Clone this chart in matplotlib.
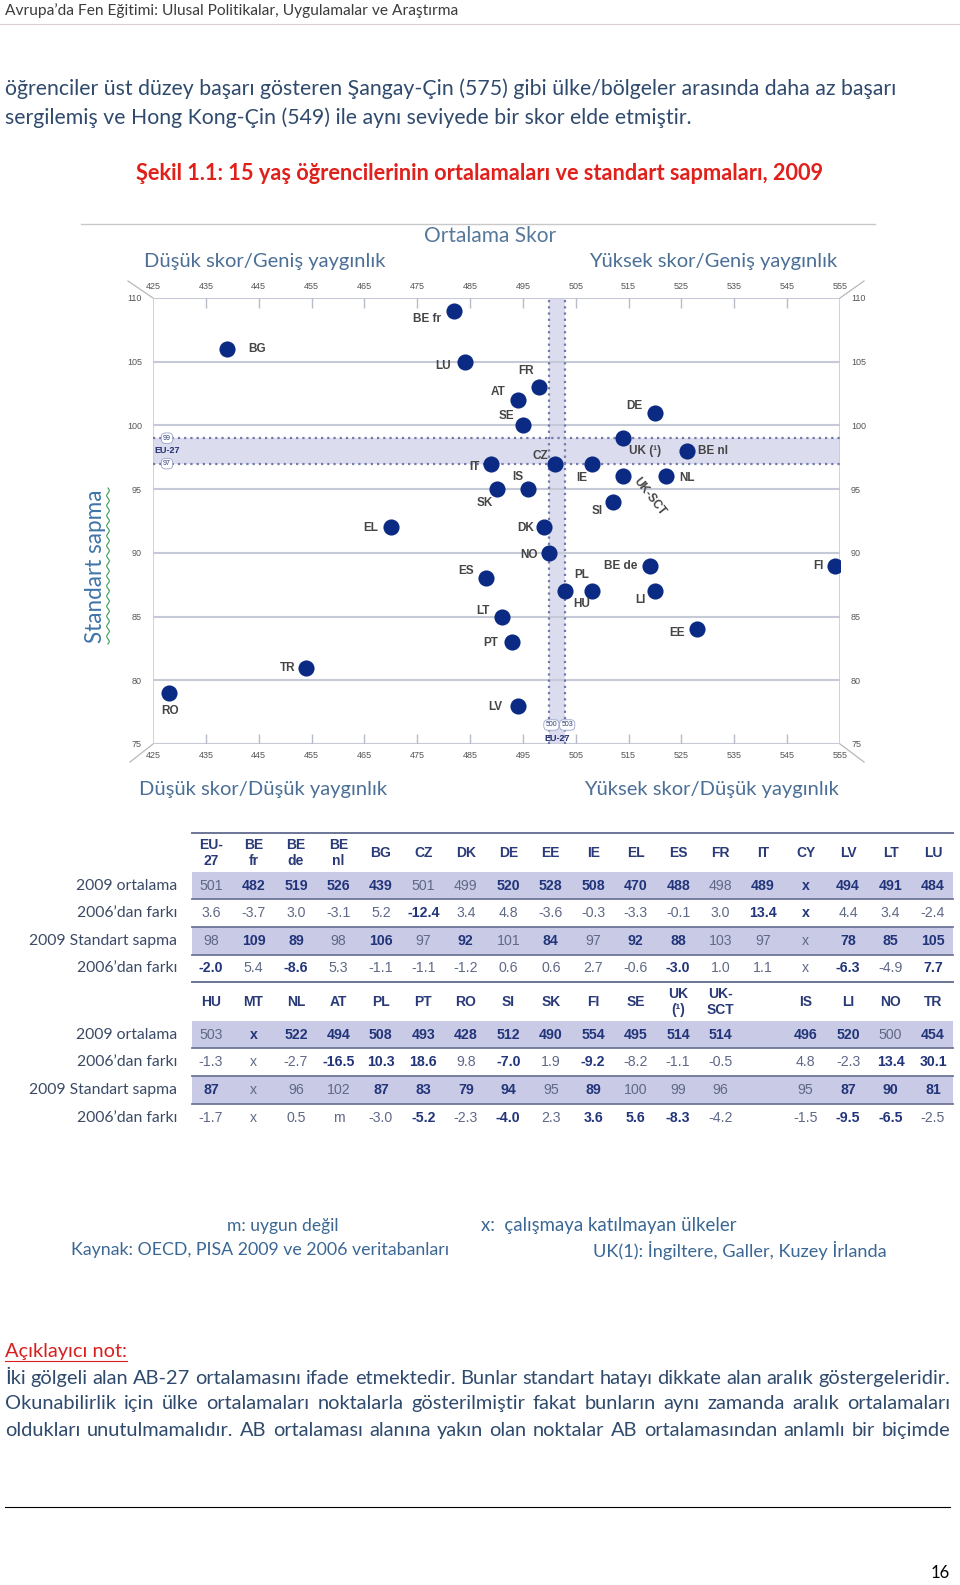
import matplotlib
matplotlib.use('Agg')
import matplotlib.pyplot as plt
import numpy as np

# ---------------- text content ----------------
header_text = "Avrupa’da Fen Eğitimi: Ulusal Politikalar, Uygulamalar ve Araştırma"
intro_lines = ["öğrenciler üst düzey başarı gösteren Şangay-Çin (575) gibi ülke/bölgeler arasında daha az başarı",
               "sergilemiş ve Hong Kong-Çin (549) ile aynı seviyede bir skor elde etmiştir."]
caption = "Şekil 1.1: 15 yaş öğrencilerinin ortalamaları ve standart sapmaları, 2009"
chart_title = "Ortalama Skor"
quad_tl = "Düşük skor/Geniş yaygınlık"
quad_tr = "Yüksek skor/Geniş yaygınlık"
quad_bl = "Düşük skor/Düşük yaygınlık"
quad_br = "Yüksek skor/Düşük yaygınlık"
y_title = "Standart sapma"
row_labels = ["2009 ortalama", "2006’dan farkı", "2009 Standart sapma", "2006’dan farkı"]
foot_m = "m: uygun değil"
foot_src = "Kaynak: OECD, PISA 2009 ve 2006 veritabanları"
foot_x = "x:  çalışmaya katılmayan ülkeler"
foot_uk = "UK(1): İngiltere, Galler, Kuzey İrlanda"
note_title = "Açıklayıcı not:"
note_lines = ["İki gölgeli alan AB-27 ortalamasını ifade etmektedir. Bunlar standart hatayı dikkate alan aralık göstergeleridir.",
              "Okunabilirlik için ülke ortalamaları noktalarla gösterilmiştir fakat bunların aynı zamanda aralık ortalamaları",
              "oldukları unutulmamalıdır. AB ortalaması alanına yakın olan noktalar AB ortalamasından anlamlı bir biçimde"]
page_no = "16"

# ---------------- table data ----------------
cols1 = ['EU-\n27', 'BE\nfr', 'BE\nde', 'BE\nnl', 'BG', 'CZ', 'DK', 'DE', 'EE', 'IE', 'EL', 'ES', 'FR', 'IT',
         'CY', 'LV', 'LT', 'LU']
mean1 = ['501', '482', '519', '526', '439', '501', '499', '520', '528', '508', '470', '488', '498', '489', 'x',
         '494', '491', '484']
mean1_b = [0, 1, 1, 1, 1, 0, 0, 1, 1, 1, 1, 1, 0, 1, 1, 1, 1, 1]
dmean1 = ['3.6', '-3.7', '3.0', '-3.1', '5.2', '-12.4', '3.4', '4.8', '-3.6', '-0.3', '-3.3', '-0.1', '3.0',
          '13.4', 'x', '4.4', '3.4', '-2.4']
dmean1_b = [0, 0, 0, 0, 0, 1, 0, 0, 0, 0, 0, 0, 0, 1, 1, 0, 0, 0]
sd1 = ['98', '109', '89', '98', '106', '97', '92', '101', '84', '97', '92', '88', '103', '97', 'x', '78', '85',
       '105']
sd1_b = [0, 1, 1, 0, 1, 0, 1, 0, 1, 0, 1, 1, 0, 0, 0, 1, 1, 1]
dsd1 = ['-2.0', '5.4', '-8.6', '5.3', '-1.1', '-1.1', '-1.2', '0.6', '0.6', '2.7', '-0.6', '-3.0', '1.0', '1.1',
        'x', '-6.3', '-4.9', '7.7']
dsd1_b = [1, 0, 1, 0, 0, 0, 0, 0, 0, 0, 0, 1, 0, 0, 0, 1, 0, 1]

cols2 = ['HU', 'MT', 'NL', 'AT', 'PL', 'PT', 'RO', 'SI', 'SK', 'FI', 'SE', 'UK\n(¹)', 'UK-\nSCT', '', 'IS',
         'LI', 'NO', 'TR']
mean2 = ['503', 'x', '522', '494', '508', '493', '428', '512', '490', '554', '495', '514', '514', '', '496',
         '520', '500', '454']
mean2_b = [0, 1, 1, 1, 1, 1, 1, 1, 1, 1, 1, 1, 1, 0, 1, 1, 0, 1]
dmean2 = ['-1.3', 'x', '-2.7', '-16.5', '10.3', '18.6', '9.8', '-7.0', '1.9', '-9.2', '-8.2', '-1.1', '-0.5',
          '', '4.8', '-2.3', '13.4', '30.1']
dmean2_b = [0, 0, 0, 1, 1, 1, 0, 1, 0, 1, 0, 0, 0, 0, 0, 0, 1, 1]
sd2 = ['87', 'x', '96', '102', '87', '83', '79', '94', '95', '89', '100', '99', '96', '', '95', '87', '90', '81']
sd2_b = [1, 0, 0, 0, 1, 1, 1, 1, 0, 1, 0, 0, 0, 0, 0, 1, 1, 1]
dsd2 = ['-1.7', 'x', '0.5', 'm', '-3.0', '-5.2', '-2.3', '-4.0', '2.3', '3.6', '5.6', '-8.3', '-4.2', '',
        '-1.5', '-9.5', '-6.5', '-2.5']
dsd2_b = [0, 0, 0, 0, 0, 1, 0, 1, 0, 1, 1, 1, 0, 0, 0, 1, 1, 0]

eu_mean_band = (500, 503)
eu_sd_band = (97, 99)

# label placement for scatter (offset in pixels: dx, dy up, rotation)
label_offsets = {
    'BE fr': (-27, -8, 0), 'BG': (30, 0, 0), 'LU': (-22, -4, 0), 'FR': (-13, 16, 0), 'AT': (-20, 8, 0),
    'SE': (-16, 9, 0), 'DE': (-21, 7, 0), 'CZ': (-14, 8, 0), 'UK (¹)': (22, -13, 0), 'BE nl': (26, 0, 0),
    'IE': (-10, -14, 0), 'IT': (-17, -3, 0), 'IS': (-10, 12, 0), 'SK': (-12, -14, 0),
    'UK-SCT': (26, -20, -52), 'NL': (21, -2, 0), 'SI': (-16, -9, 0), 'EL': (-20, -1, 0), 'DK': (-18, -1, 0),
    'FI': (-16, 0, 0), 'NO': (-20, -2, 0), 'BE de': (-29, 0, 0), 'ES': (-20, 7, 0), 'PL': (-10, 16, 0),
    'LI': (-15, -9, 0), 'HU': (16, -13, 0), 'LT': (-19, 6, 0), 'EE': (-20, -4, 0), 'PT': (-22, -1, 0),
    'TR': (-19, 0, 0), 'RO': (1, -18, 0), 'LV': (-22, -1, 0),
}

# ---------------- helpers ----------------
W, H = 960, 1585
fig = plt.figure(figsize=(W / 100, H / 100), dpi=100)
bg = fig.add_axes([0, 0, 1, 1])
bg.set_xlim(0, W)
bg.set_ylim(H, 0)
bg.axis('off')
R = fig.canvas.get_renderer()

CAL = ['Lato', 'DejaVu Sans']
ARIAL = ['Liberation Sans', 'DejaVu Sans']
NARROW = ['Liberation Sans Narrow', 'Liberation Sans', 'DejaVu Sans']


def twidth(t):
    return t.get_window_extent(R).width


def fit(x0, x1, y, s, base=12, **kw):
    t = bg.text(x0, y, s, fontsize=base, va='center', ha='left', **kw)
    t.set_fontsize(base * (x1 - x0) / twidth(t))
    return t


def justify(x0, x1, y, s, size, **kw):
    words = s.split(' ')
    yb = y + 0.36 * size * 100 / 72
    ts = [bg.text(0, yb, w, fontsize=size, va='baseline', ha='left', **kw) for w in words]
    ws = [twidth(t) for t in ts]
    gap = (x1 - x0 - sum(ws)) / (len(words) - 1)
    x = x0
    for t, w in zip(ts, ws):
        t.set_x(x)
        x += w + gap


# ---------------- page text ----------------
fit(5, 457, 11, header_text, family=CAL, color='#3c3c3c')
bg.plot([0, W], [24, 24], color='#dccfcf', lw=0.8)

t1 = fit(5, 893, 89, intro_lines[0], family=CAL, color='#2f4a6d')
bg.text(5, 118, intro_lines[1], fontsize=t1.get_fontsize(), va='center', ha='left', family=CAL,
        color='#2f4a6d')
fit(136, 818, 174, caption, family=CAL, color='#e0201b', fontweight='bold')

# chart frame top line
bg.plot([81, 875], [224, 224], color='#c8c8c8', lw=1.0)
fit(424, 555, 236, chart_title, family=CAL, color='#56789a')
qt = fit(144, 384, 262, quad_tl, family=CAL, color='#4b6f96')
qs = qt.get_fontsize()
bg.text(837, 262, quad_tr, fontsize=qs, family=CAL, color='#4b6f96', ha='right', va='center')
bg.text(139, 789, quad_bl, fontsize=qs, family=CAL, color='#4b6f96', ha='left', va='center')
bg.text(839, 789, quad_br, fontsize=qs, family=CAL, color='#4b6f96', ha='right', va='center')

# vertical axis title with squiggle
yt = bg.text(96, 566, y_title, rotation=90, family=CAL, color='#3f74a8', ha='center', va='center',
             fontsize=12)
yt.set_fontsize(12 * 152 / yt.get_window_extent(R).height)
sy = np.linspace(488, 644, 400)
bg.plot(108 + 1.3 * np.sin((sy - 488) / 1.6), sy, color='#3a9a55', lw=0.8)

# ---------------- scatter ----------------
X0, X1, Y0, Y1 = 153, 840, 298, 744
ax = fig.add_axes([X0 / W, 1 - Y1 / H, (X1 - X0) / W, (Y1 - Y0) / H])
ax.set_xlim(425, 555)
ax.set_ylim(75, 110)
ax.patch.set_alpha(0)
for s in ax.spines.values():
    s.set_visible(False)

grid_c = '#c6cad8'
for yv in np.arange(75, 111, 5):
    ax.axhline(yv, color=grid_c, lw=1.5, zorder=1)
ax.axvline(425, color=grid_c, lw=1.2, zorder=1)
ax.axvline(555, color=grid_c, lw=1.2, zorder=1)
inner = np.arange(435, 550, 10)
ax.vlines(inner, 110 - 0.8, 110, color='#b8bcc8', lw=1.0, zorder=1)
ax.vlines(inner, 75, 75 + 0.8, color='#b8bcc8', lw=1.0, zorder=1)

# corner diagonals
for (xa, ya, xb, yb) in [(X0, Y0, 128, 281), (X1, Y0, 864, 281), (X0, Y1, 130, 762), (X1, Y1, 864, 762)]:
    bg.plot([xa, xb], [ya, yb], color='#b8b8b8', lw=0.9)

# EU-27 bands
band_c = '#dcdcef'
ax.axhspan(*eu_sd_band, color=band_c, zorder=0.5, lw=0)
ax.axvspan(*eu_mean_band, color=band_c, zorder=0.5, lw=0)
dot_c = '#6f78a8'
for v in eu_sd_band:
    ax.axhline(v, color=dot_c, lw=1.6, ls=(0, (1, 1.8)), zorder=2)
for v in eu_mean_band:
    ax.axvline(v, color=dot_c, lw=1.6, ls=(0, (1, 1.8)), zorder=2)

oval = dict(boxstyle='round,pad=0.25,rounding_size=0.6', fc='white', ec='#9aa3c8', lw=0.6)
for v in eu_sd_band:
    ax.annotate(str(v), (425, v), xytext=(14, 0), textcoords='offset pixels', ha='center', va='center',
                fontsize=5, family=NARROW, color='#2a3a78', bbox=oval, zorder=4)
ax.annotate('EU-27', (425, sum(eu_sd_band) / 2), xytext=(14, 0), textcoords='offset pixels', ha='center',
            va='center', fontsize=6.5, family=NARROW, color='#1f2f70', fontweight='bold', zorder=4)
for v in eu_mean_band:
    ax.annotate(str(v), (v, 75), xytext=(2, 19), textcoords='offset pixels', ha='center', va='center',
                fontsize=5, family=NARROW, color='#2a3a78', bbox=oval, zorder=4)
ax.annotate('EU-27', (sum(eu_mean_band) / 2, 75), xytext=(0, 5), textcoords='offset pixels', ha='center',
            va='center', fontsize=6.5, family=NARROW, color='#1f2f70', fontweight='bold', zorder=4)

# ticks
ax.set_xticks(np.arange(425, 556, 10))
ax.set_xticklabels([str(v) for v in range(425, 556, 10)], fontsize=6.5, color='#555555', family=NARROW)
ax.tick_params(axis='x', top=True, labeltop=True, bottom=True, labelbottom=True, length=0, pad=5)
ax.set_yticks(np.arange(75, 111, 5))
ax.set_yticklabels([str(v) for v in range(75, 111, 5)], fontsize=6.5, color='#555555', family=NARROW)
ax.tick_params(axis='y', left=True, right=True, labelleft=True, labelright=True, length=0, pad=8)

# points from the table
codes, means, sds = [], [], []
for cols, mrow, srow in [(cols1, mean1, sd1), (cols2, mean2, sd2)]:
    for c, m, s in zip(cols, mrow, srow):
        code = c.replace('-\n', '-').replace('\n', ' ')
        if code in ('EU-27', '') or m == 'x':
            continue
        codes.append(code)
        means.append(float(m))
        sds.append(float(s))
ax.scatter(means, sds, s=135, color='#0b2a84', zorder=5, linewidths=0)
for c, m, s in zip(codes, means, sds):
    dx, dy, rot = label_offsets[c]
    ax.annotate(c, (m, s), xytext=(dx, dy), textcoords='offset pixels', ha='center', va='center',
                rotation=rot, fontsize=8.5, family=NARROW, fontweight='bold', color='#454545', zorder=6)

# ---------------- table ----------------
colx = np.linspace(211, 933, 18)
shade_c = '#c9cbe6'
line_c = '#6d7598'
bold_c = '#22357a'
norm_c = '#5f6886'

rl = bg.text(177, 0, row_labels[2], fontsize=10, family=CAL, ha='right', va='center')
rl_size = 10 * 148 / twidth(rl)
rl.remove()


def draw_block(top_y, head_y, row_ys, shades, headers, rows, bolds):
    bg.plot([192, 953], [top_y, top_y], color=line_c, lw=1.4)
    for (a, b) in shades:
        bg.fill_between([192, 953], a, b, color=shade_c, lw=0, zorder=0)
    for yv in [shades[0][1], shades[1][0], shades[1][1]]:
        bg.plot([192, 953], [yv, yv], color=line_c, lw=1.3, zorder=1)
    for x, h in zip(colx, headers):
        bg.text(x, head_y, h, ha='center', va='center', fontsize=10, family=ARIAL, fontweight='bold',
                color='#2a3a78', linespacing=1.15)
    for ry, lab, vals, bl in zip(row_ys, row_labels, rows, bolds):
        bg.text(177, ry, lab, ha='right', va='center', fontsize=rl_size, family=CAL, color='#3b4a66')
        for x, v, b in zip(colx, vals, bl):
            bg.text(x, ry, v, ha='center', va='center', fontsize=10.2, family=ARIAL,
                    fontweight='bold' if b else 'normal', color=bold_c if b else norm_c)


draw_block(833, 853, [886, 913, 941, 968], [(872, 899), (927, 955)], cols1,
           [mean1, dmean1, sd1, dsd1], [mean1_b, dmean1_b, sd1_b, dsd1_b])
draw_block(982, 1002, [1035, 1062, 1090, 1118], [(1021, 1048), (1076, 1104)], cols2,
           [mean2, dmean2, sd2, dsd2], [mean2_b, dmean2_b, sd2_b, dsd2_b])

# ---------------- footnotes ----------------
fc = '#3b6795'
fit(227, 339, 1226, foot_m, family=CAL, color=fc)
fit(71, 447, 1250, foot_src, family=CAL, color=fc)
fit(481, 736, 1226, foot_x, family=CAL, color=fc)
fit(593, 885, 1250, foot_uk, family=CAL, color=fc)

# explanatory note
tmp = bg.text(0, 0, note_lines[0], fontsize=12, family=CAL)
note_size = 12 * 945 / twidth(tmp)
tmp.remove()
nt = bg.text(5, 1352, note_title, fontsize=note_size, family=CAL, color='#d81f1f', ha='left', va='center')
nw = twidth(nt)
bg.plot([5, 5 + nw], [1361, 1361], color='#d81f1f', lw=0.8)
for yv, line in zip([1377, 1402, 1429], note_lines):
    justify(5, 950, yv, line, note_size, family=CAL, color='#2f4a6d')

bg.plot([5, 950], [1507, 1507], color='black', lw=0.8)
bg.text(950, 1573, page_no, fontsize=12, family=CAL, color='black', ha='right', va='center')

fig.savefig('out.png', dpi=100)
